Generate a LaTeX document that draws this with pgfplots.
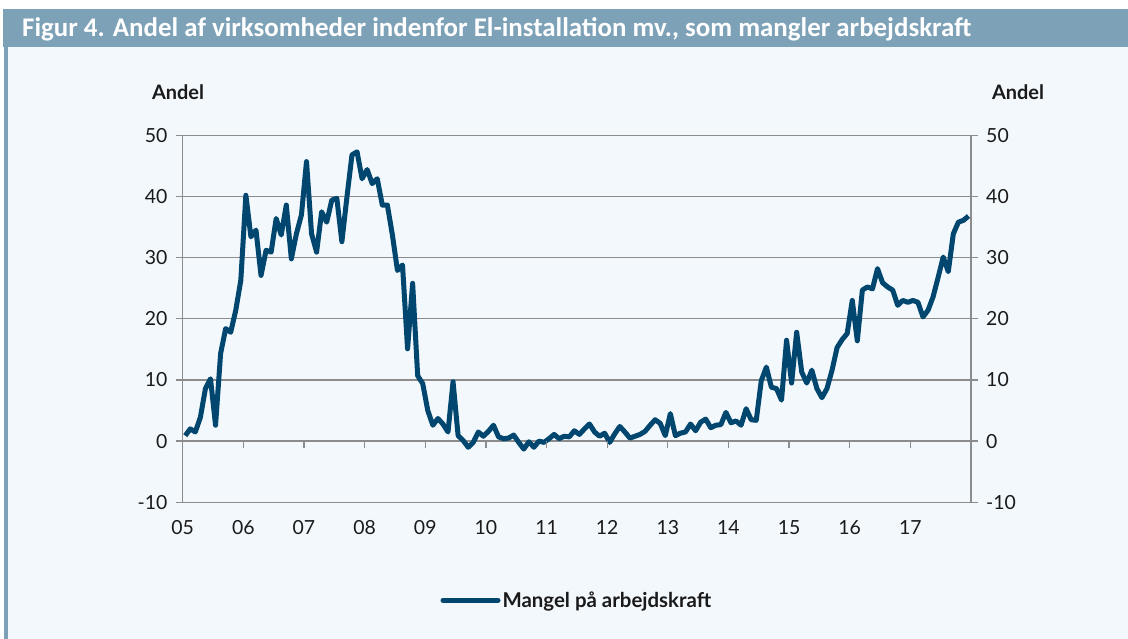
\documentclass[border=0pt]{standalone}
\usepackage{fontspec}
\setmainfont{Lato}
\newfontfamily\titlefont{Carlito}
\usepackage{pgfplots}
\pgfplotsset{compat=1.18}
\definecolor{barblue}{HTML}{7DA1B7}
\definecolor{panel}{HTML}{F3F8FC}
\definecolor{linecol}{HTML}{00466E}
\definecolor{gridgrey}{HTML}{8C8C8C}
\definecolor{txt}{HTML}{1A1A1A}
\begin{document}
\begin{tikzpicture}
\useasboundingbox (0bp,0bp) rectangle (1128bp,-639bp);
\fill[white] (0bp,0bp) rectangle (1128bp,-639bp);
\fill[barblue] (3bp,-9bp) rectangle (1128bp,-47bp);
\fill[panel] (8bp,-47bp) rectangle (1128bp,-639bp);
\fill[barblue] (4bp,-47bp) rectangle (8bp,-639bp);
\node[anchor=west, text=white, font=\titlefont\bfseries\fontsize{27}{30}\selectfont, inner sep=0pt] at (22bp,-29bp) {Figur 4. Andel af virksomheder indenfor El-installation mv., som mangler arbejdskraft};
\node[font=\bfseries\fontsize{20}{23}\selectfont, text=txt] at (178bp,-92bp) {Andel};
\node[font=\bfseries\fontsize{20}{23}\selectfont, text=txt] at (1018bp,-92bp) {Andel};
\begin{axis}[
  at={(182.7bp,-502.3bp)}, anchor=south west,
  scale only axis, width=788.3bp, height=367bp,
  xmin=0, xmax=156, ymin=-10, ymax=50,
  axis line style={gridgrey, line width=1.3bp},
  xtick={0,12,...,144},
  xticklabels={05,06,07,08,09,10,11,12,13,14,15,16,17},
  xtick style={draw=none},
  ytick={-10,0,10,20,30,40,50},
  yticklabels={-10,0,10,20,30,40,50},
  ytick pos=both,
  tick align=outside,
  major tick length=6.7bp,
  ytick style={gridgrey, line width=1.3bp},
  ymajorgrids, grid style={gridgrey, line width=1.3bp},
  tick label style={font=\fontsize{19.5}{22}\selectfont, text=txt},
  yticklabel style={xshift=-5bp},
  xticklabel style={yshift=-8bp},
  legend style={at={(axis description cs:0.5,-0.267)}, anchor=center, draw=none, fill=none, font=\bfseries\fontsize{20.5}{23}\selectfont, text=txt, inner sep=0pt},
  legend image code/.code={\draw[#1, line width=5bp, line cap=round] (0bp,0bp) -- (55bp,0bp);},
  legend cell align=left,
]
\addplot[linecol, line width=5bp, line join=round, no marks] coordinates {
(0.5,0.9)(1.5,2.0)(2.5,1.5)(3.5,3.9)(4.5,8.6)(5.5,10.2)(6.5,2.6)(7.5,14.3)(8.5,18.4)(9.5,17.8)(10.5,21.4)(11.5,26.3)
(12.5,40.2)(13.5,33.4)(14.5,34.5)(15.5,27.1)(16.5,31.2)(17.5,30.9)(18.5,36.4)(19.5,33.7)(20.5,38.6)(21.5,29.8)(22.5,33.9)(23.5,37.0)
(24.5,45.7)(25.5,33.9)(26.5,30.9)(27.5,37.5)(28.5,35.8)(29.5,39.4)(30.5,39.7)(31.5,32.6)(32.5,39.9)(33.5,46.8)(34.5,47.3)(35.5,42.9)
(36.5,44.4)(37.5,42.1)(38.5,42.9)(39.5,38.6)(40.5,38.6)(41.5,33.7)(42.5,27.9)(43.5,28.8)(44.5,15.1)(45.5,25.8)(46.5,10.7)(47.5,9.4)
(48.5,5.0)(49.5,2.6)(50.5,3.7)(51.5,2.8)(52.5,1.5)(53.5,9.7)(54.5,0.9)(55.5,0.1)(56.5,-1.0)(57.5,-0.2)(58.5,1.5)(59.5,0.8)
(60.5,1.6)(61.5,2.6)(62.5,0.7)(63.5,0.4)(64.5,0.5)(65.5,1.0)(66.5,-0.2)(67.5,-1.3)(68.5,-0.1)(69.5,-1.0)(70.5,0.0)(71.5,-0.2)
(72.5,0.4)(73.5,1.1)(74.5,0.4)(75.5,0.8)(76.5,0.7)(77.5,1.7)(78.5,1.1)(79.5,2.0)(80.5,2.8)(81.5,1.5)(82.5,0.8)(83.5,1.3)
(84.5,-0.2)(85.5,1.2)(86.5,2.4)(87.5,1.5)(88.5,0.5)(89.5,0.8)(90.5,1.1)(91.5,1.6)(92.5,2.6)(93.5,3.5)(94.5,2.9)(95.5,0.9)
(96.5,4.5)(97.5,0.9)(98.5,1.3)(99.5,1.5)(100.5,2.8)(101.5,1.7)(102.5,3.1)(103.5,3.6)(104.5,2.2)(105.5,2.6)(106.5,2.7)(107.5,4.7)
(108.5,3.0)(109.5,3.3)(110.5,2.6)(111.5,5.3)(112.5,3.5)(113.5,3.4)(114.5,9.9)(115.5,12.1)(116.5,8.8)(117.5,8.6)(118.5,6.7)(119.5,16.5)
(120.5,9.5)(121.5,17.8)(122.5,11.3)(123.5,9.5)(124.5,11.6)(125.5,8.6)(126.5,7.1)(127.5,8.6)(128.5,11.6)(129.5,15.3)(130.5,16.6)(131.5,17.6)
(132.5,23.0)(133.5,16.4)(134.5,24.7)(135.5,25.2)(136.5,24.9)(137.5,28.2)(138.5,25.9)(139.5,25.2)(140.5,24.7)(141.5,22.2)(142.5,23.0)(143.5,22.7)
(144.5,23.0)(145.5,22.7)(146.5,20.3)(147.5,21.4)(148.5,23.6)(149.5,26.8)(150.5,30.1)(151.5,27.7)(152.5,33.9)(153.5,35.8)(154.5,36.1)(155.5,36.8)
};
\addlegendentry{Mangel på arbejdskraft}
\pgfplotsinvokeforeach{0,12,24,36,48,60,72,84,96,108,120,132,144}{
  \draw[gridgrey, line width=1.3bp] (axis cs:#1,0) -- ([yshift=-7bp]axis cs:#1,0);
}
\end{axis}
\begin{axis}[
  at={(182.7bp,-502.3bp)}, anchor=south west,
  scale only axis, width=788.3bp, height=367bp,
  xmin=0, xmax=156, ymin=-10, ymax=50,
  hide x axis,
  axis y line*=right,
  axis line style={gridgrey, line width=1.3bp},
  ytick={-10,0,10,20,30,40,50},
  yticklabels={-10,0,10,20,30,40,50},
  tick align=outside,
  major tick length=6.7bp,
  ytick style={gridgrey, line width=1.3bp},
  tick label style={font=\fontsize{19.5}{22}\selectfont, text=txt},
  yticklabel style={xshift=5bp},
]
\end{axis}
\end{tikzpicture}
\end{document}
